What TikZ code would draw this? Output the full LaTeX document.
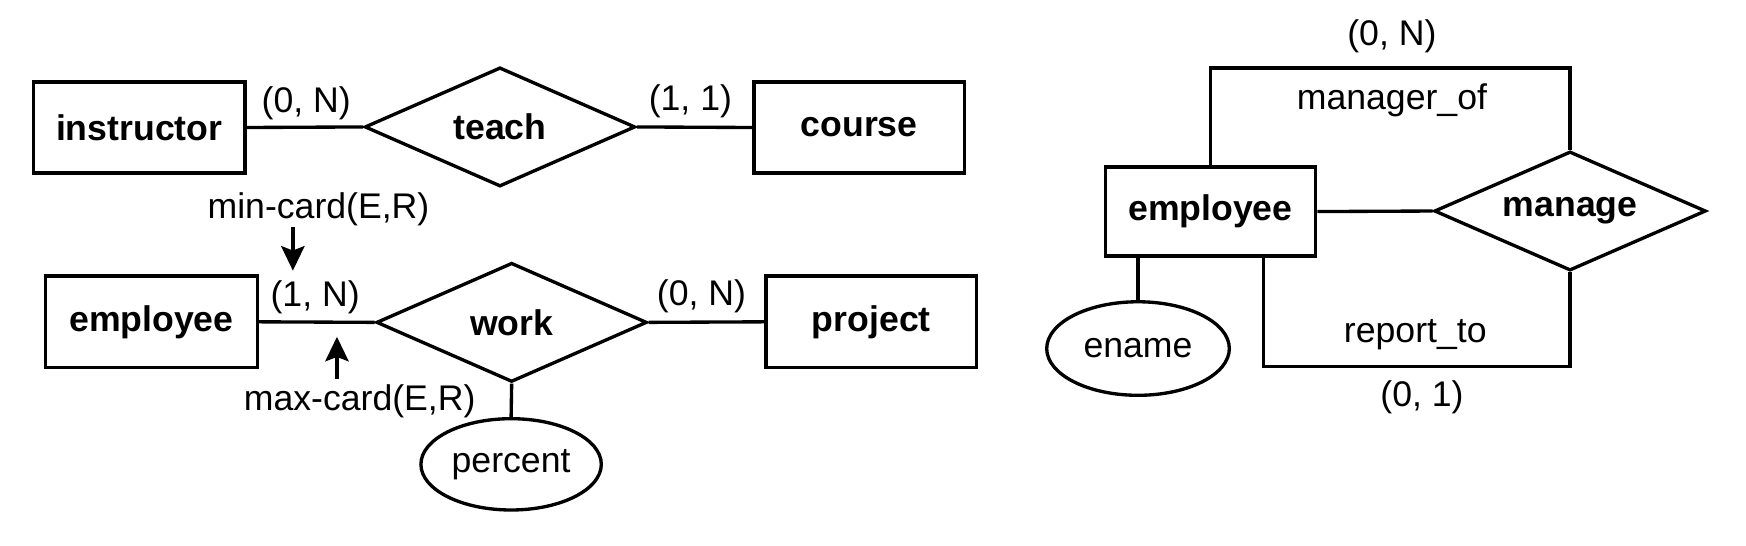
\documentclass[tikz,border=0pt]{standalone}
\usepackage{fontspec}
\setmainfont{Liberation Sans}
\usetikzlibrary{shapes.geometric,arrows.meta}
\begin{document}
\begin{tikzpicture}[x=1pt,y=-1pt,
  ent/.style={draw, line width=3pt, rectangle, minimum width=190pt, minimum height=82pt, inner sep=0pt, font=\fontsize{32}{38}\selectfont\bfseries},
  rel/.style={draw, line width=3pt, diamond, aspect=2.27, minimum width=243pt, minimum height=107pt, inner sep=0pt, font=\fontsize{32}{38}\selectfont\bfseries},
  attr/.style={draw, ellipse, line width=3pt, minimum width=162pt, minimum height=82pt, inner sep=0pt, font=\fontsize{32}{38}\selectfont},
  lbl/.style={inner sep=0pt, font=\fontsize{32}{38}\selectfont},
  conn/.style={line width=3pt},
  arr/.style={line width=3pt, -{Stealth[width=21pt,length=22pt,inset=4pt]}}
]
\useasboundingbox (0,0) rectangle (1568,490.3);

% top row
\node[ent] (instr) at (125,114.5) {instructor};
\node[rel] (teach) at (449,114) {teach};
\node[ent, minimum width=189pt] (course) at (771.5,114.5) {course};
\draw[conn] (instr.east) -- (teach.west);
\draw[conn] (teach.east) -- (course.west);
\node[lbl] (c1) at (275,93) {(0, N)};
\node[lbl] (c2) at (620,91) {(1, 1)};

% second row
\node[ent] (emp1) at (136,289) {employee};
\node[rel] (work) at (459.5,289.5) {work};
\node[ent, minimum width=189pt] (proj) at (782.5,289) {project};
\node[attr] (pct) at (459,417) {percent};
\draw[conn] (emp1.east) -- (work.west);
\draw[conn] (work.east) -- (proj.west);
\draw[conn] (work.south) -- (pct.north);
\node[lbl] (c3) at (283,267) {(1, N)};
\node[lbl] (c4) at (630,266) {(0, N)};
\node[lbl] (mincard) at (286,188) {min-card(E,R)};
\node[lbl] (maxcard) at (323,360) {max-card(E,R)};
\coordinate (mcA) at (263,204);
\coordinate (mcB) at (263,243);
\coordinate (xcA) at (302.6,340);
\coordinate (xcB) at (302.6,302.5);
\draw[arr] (mcA) -- (mcB);
\draw[arr] (xcA) -- (xcB);

% right diagram
\node[ent, minimum width=189pt, minimum height=80pt] (emp2) at (1087,190) {employee};
\node[rel, minimum width=244pt] (manage) at (1410,189.5) {manage};
\node[attr, minimum width=164pt, minimum height=84pt] (ename) at (1022,313) {ename};
\draw[conn] (emp2.east) -- (manage.west);
\draw[conn] (ename.north |- emp2.south) -- (ename.north);
\coordinate (mtop) at (1250,61);
\draw[conn] (emp2.north) |- (mtop) -| (manage.north);
\coordinate (rbot) at (1270,329.3);
\draw[conn] ([xshift=47.5pt]emp2.south) |- (rbot) -| (manage.south);
\node[lbl] (c5) at (1250,33) {(0, N)};
\node[lbl] (mo) at (1250,90) {manager\_of};
\node[lbl] (rt) at (1271,301) {report\_to};
\node[lbl] (c6) at (1277,357) {(0, 1)};
\end{tikzpicture}
\end{document}
